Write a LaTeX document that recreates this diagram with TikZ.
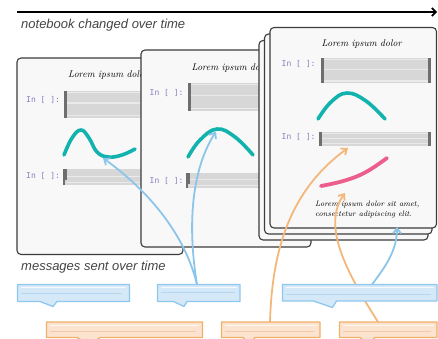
\documentclass[tikz,border=0pt]{standalone}
\usepackage{fontspec}
\newfontfamily\labelfont{Liberation Sans}
\newfontfamily\codefont{DejaVu Sans Mono}
\usetikzlibrary{arrows.meta}
\definecolor{cardfill}{HTML}{F8F8F8}
\definecolor{cardline}{HTML}{3C3C3C}
\definecolor{cellfill}{HTML}{D7D7D7}
\definecolor{celllight}{HTML}{EAEAEA}
\definecolor{cellbar}{HTML}{6E6E6E}
\definecolor{codepurple}{HTML}{8A7DC2}
\definecolor{tealc}{HTML}{12B3AE}
\definecolor{pinkc}{HTML}{EC5F8C}
\definecolor{bluearrow}{HTML}{8CC5EA}
\definecolor{bluefill}{HTML}{D4E8F7}
\definecolor{blueline}{HTML}{8FC8EE}
\definecolor{bluestripe}{HTML}{B3D7F1}
\definecolor{orangearrow}{HTML}{F4B77A}
\definecolor{orangefill}{HTML}{FBE3D0}
\definecolor{orangeline}{HTML}{F0B068}
\definecolor{orangestripe}{HTML}{F3C9A6}
\definecolor{labelgray}{HTML}{444444}
\newcommand\codecell[4]{%
  \fill[cellfill] (#1,#2) rectangle (#3,#4);
  \draw[celllight,line width=1.6] ({#1+3},{#2+1.5}) -- ({#3-1},{#2+1.5});
  \draw[celllight,line width=1.4] ({#1+3},{#2+0.45*(#4-#2)}) -- ({#3-1},{#2+0.45*(#4-#2)});
  \draw[celllight,line width=1.4] ({#1+3},{#4-2.5}) -- ({#3-1},{#4-2.5});
  \fill[cellbar] (#1,#2) rectangle ({#1+3},#4);
}
\newcommand\smallcell[4]{%
  \fill[cellfill] (#1,#2) rectangle (#3,#4);
  \draw[celllight,line width=1.4] ({#1+3},{#2+0.45*(#4-#2)}) -- ({#3-1},{#2+0.45*(#4-#2)});
  \draw[celllight,line width=1.4] ({#1+3},{#4-2.5}) -- ({#3-1},{#4-2.5});
  \fill[cellbar] (#1,#2) rectangle ({#1+4},{#2+0.7*(#4-#2)});
  \fill[cellbar] (#1,#2) rectangle ({#1+2},#4);
}
\newcommand\cardbox[4]{%
  \filldraw[cardstyle] (#1,#2) rectangle (#3,#4);
}
\begin{document}
\begin{tikzpicture}[x=1pt,y=-1pt,
  cardstyle/.style={fill=cardfill,draw=cardline,line width=1.1pt,rounded corners=4pt},
  codelabel/.style={font=\codefont\fontsize{8}{9}\selectfont,text=codepurple,anchor=west,inner sep=0pt},
  titletext/.style={font=\rmfamily\itshape\fontsize{9.7}{11}\selectfont,text=black,anchor=west,inner sep=0pt},
  bodytext/.style={font=\rmfamily\itshape\fontsize{7.8}{10}\selectfont,text=black,anchor=west,inner sep=0pt},
  labeltext/.style={font=\labelfont\itshape\fontsize{13}{15}\selectfont,text=labelgray,anchor=west,inner sep=0pt},
  tealcurve/.style={tealc,line width=3.6pt,line cap=round},
  pinkcurve/.style={pinkc,line width=3.8pt,line cap=round},
  bluearr/.style={bluearrow,line width=1.8pt,-{Straight Barb[length=5pt,width=8pt]}},
  orangearr/.style={orangearrow,line width=1.8pt,-{Straight Barb[length=5pt,width=8pt]}},
  bluemsg/.style={fill=bluefill,draw=blueline,line width=1.3pt,line join=round},
  orangemsg/.style={fill=orangefill,draw=orangeline,line width=1.3pt,line join=round},
  timearrow/.style={black,line width=1.7pt,-{Straight Barb[length=4pt,width=8pt]}}
]
\useasboundingbox (0,0) rectangle (438,339);

% time axis
\coordinate (tstart) at (17,12);
\coordinate (tend) at (437,12);
\draw[timearrow] (tstart) -- (tend);
\node[labeltext] (toplabel) at (21,25) {notebook changed over time};

% notebook 1
\cardbox{17}{58}{183}{254.5}
\node[titletext] (title1) at (68,75.5) {Lorem ipsum dolor};
\node[codelabel] (in11) at (26,99.5) {In [ ]:};
\codecell{64}{91}{180}{118}
\draw[tealcurve] plot[smooth,tension=0.7] coordinates {(64,155) (72,138) (81,130) (89,138) (97,152) (108,157) (122,155) (135,149)};
\coordinate (tip1) at (103,158);
\node[codelabel] (in12) at (26,176) {In [ ]:};
\smallcell{63}{169}{180}{185}

% notebook 2
\cardbox{141}{50}{311}{247}
\node[titletext] (title2) at (191.5,68.5) {Lorem ipsum dolor};
\node[codelabel] (in21) at (149.5,92.5) {In [ ]:};
\codecell{188}{83}{300}{111}
\draw[tealcurve] plot[smooth,tension=0.7] coordinates {(188,157) (200,140) (217,129) (235,137) (253,155)};
\coordinate (tip2) at (216,131.5);
\node[codelabel] (in22) at (149.5,180.5) {In [ ]:};
\smallcell{186}{173}{300}{188}

% notebook 3 stack
\cardbox{259}{40.5}{428}{240}
\cardbox{264.5}{34}{432}{234}
\cardbox{270}{27.5}{436.5}{228}
\node[titletext] (title3) at (321.5,44.5) {Lorem ipsum dolor};
\node[codelabel] (in31) at (281.5,64) {In [ ]:};
\codecell{321}{58}{431}{83.5}
\fill[cellbar] (428,58) rectangle (431,83.5);
\draw[tealcurve] plot[smooth,tension=0.7] coordinates {(318,119) (331,102) (347,93) (366,101) (385,119)};
\node[codelabel] (in32) at (281.5,137) {In [ ]:};
\codecell{319}{132}{431}{146}
\fill[cellbar] (428,132) rectangle (431,146);
\draw[pinkcurve] plot[smooth,tension=0.7] coordinates {(321,186) (345,180.5) (366,172) (387,158)};
\node[bodytext] (body1) at (315,205) {Lorem ipsum dolor sit amet,};
\node[bodytext] (body2) at (315,215) {consectetur adipiscing elit.};
\coordinate (tip3) at (397,227);
\coordinate (tip4) at (348,148);
\coordinate (tip5) at (345,193);

% messages label
\node[labeltext] (botlabel) at (21,267) {messages sent over time};

% message anchors
\coordinate (m2top) at (197,284.5);
\coordinate (m3top) at (372,284.5);
\coordinate (o2top) at (270,322);
\coordinate (o3top) at (378,322);

% arrows
\draw[bluearr] (m2top) .. controls (185,235) and (150,192) .. (tip1);
\draw[bluearr] (m2top) .. controls (188,230) and (190,172) .. (tip2);
\draw[bluearr] (m3top) .. controls (386,266) and (397,250) .. (tip3);
\draw[orangearr] (o2top) .. controls (272,250) and (290,190) .. (tip4);
\draw[orangearr] (o3top) .. controls (345,270) and (322,225) .. (tip5);

% blue messages
\draw[bluemsg] (17.5,284.5) -- (129.5,284.5) -- (129.5,301.5) -- (57,301.5) -- (53,306.5) -- (40,301.5) -- (17.5,301.5) -- cycle;
\draw[white,line width=1pt,opacity=.8] (21,287.5) -- (126,287.5);
\draw[bluestripe,line width=1pt] (21,293.5) -- (122,293.5);
\draw[bluemsg] (157.5,284.5) -- (240,284.5) -- (240,301.5) -- (187,301.5) -- (184,306.5) -- (173.5,301.5) -- (157.5,301.5) -- cycle;
\draw[white,line width=1pt,opacity=.8] (161,287.5) -- (237,287.5);
\draw[bluestripe,line width=1pt] (161,292.5) -- (235,292.5);
\draw[bluemsg] (282.5,284.5) -- (437,284.5) -- (437,301) -- (336.5,301) -- (332.5,307.5) -- (313.5,301) -- (282.5,301) -- cycle;
\draw[white,line width=1pt,opacity=.8] (286,287.5) -- (434,287.5);
\draw[bluestripe,line width=1pt] (286,294) -- (431,294);

% orange messages
\draw[orangemsg] (46.5,322) -- (202.5,322) -- (202.5,337.5) -- (100,337.5) -- (90,345) -- (77,337.5) -- (46.5,337.5) -- cycle;
\draw[white,line width=1pt,opacity=.8] (50,325) -- (199,325);
\draw[orangestripe,line width=1pt] (50,331) -- (196,331);
\draw[orangemsg] (221.5,322) -- (320,322) -- (320,337.5) -- (255,337.5) -- (250,345) -- (243,337.5) -- (221.5,337.5) -- cycle;
\draw[white,line width=1pt,opacity=.8] (225,325) -- (317,325);
\draw[orangestripe,line width=1pt] (225,331) -- (314,331);
\draw[orangemsg] (339.5,322) -- (437,322) -- (437,337.5) -- (375,337.5) -- (368,345) -- (360,337.5) -- (339.5,337.5) -- cycle;
\draw[white,line width=1pt,opacity=.8] (343,325) -- (434,325);
\draw[orangestripe,line width=1pt] (343,331) -- (431,331);
\end{tikzpicture}
\end{document}
